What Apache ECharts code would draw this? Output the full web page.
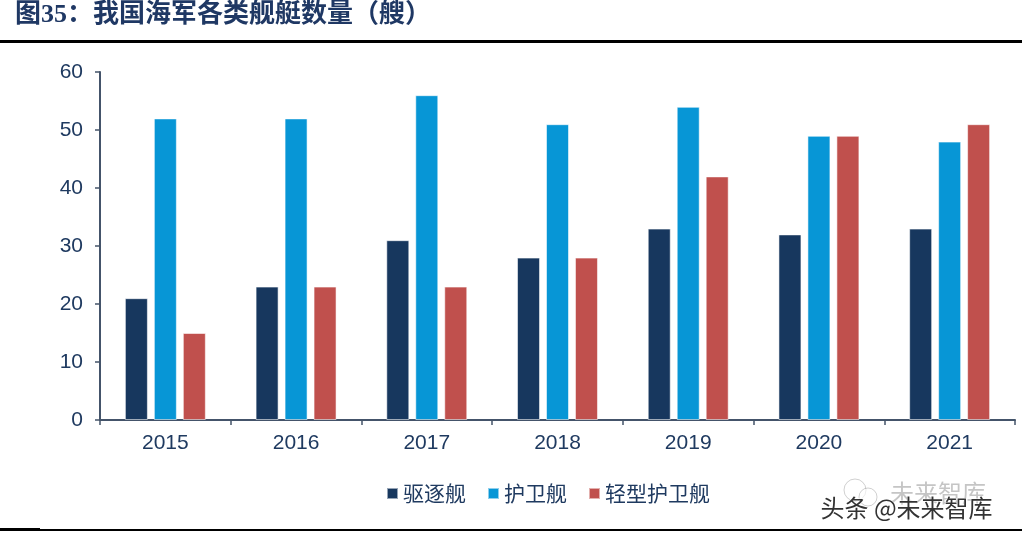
<!DOCTYPE html>
<html>
<head>
<meta charset="utf-8">
<script src="https://cdn.jsdelivr.net/npm/echarts@6/dist/echarts.min.js"></script>
<style>
html,body{margin:0;padding:0;background:#fff;}
#c{width:1022px;height:541px;}
</style>
</head>
<body>
<div id="c"></div>
<script>
const categories = ['2015','2016','2017','2018','2019','2020','2021'];
const destroyers = [21, 23, 31, 28, 33, 32, 33];
const frigates = [52, 52, 56, 51, 54, 49, 48];
const corvettes = [15, 23, 23, 28, 42, 49, 51];
const seriesNames = ['驱逐舰', '护卫舰', '轻型护卫舰'];
const yTicks = [0, 10, 20, 30, 40, 50, 60];

const chart = echarts.init(document.getElementById('c'));
const labelColor = '#1f3a60';
const axisColor = '#44546a';
const barBorder = { borderColor: 'rgba(255,255,255,0.55)', borderWidth: 1 };

chart.setOption({
  animation: false,
  backgroundColor: '#fff',
  title: {
    text: '图35：我国海军各类舰艇数量（艘）',
    left: 15, top: 0, padding: [2, 0, 0, 0],
    textStyle: { fontFamily: 'Liberation Serif, Noto Sans CJK SC', fontWeight: 'bold', fontSize: 26, color: '#1f3864' }
  },
  graphic: [
    { type: 'rect', shape: { x: 0, y: 40, width: 1022, height: 3 }, style: { fill: '#000' } },
    { type: 'rect', shape: { x: 0, y: 529, width: 1022, height: 2 }, style: { fill: '#000' } },
    { type: 'rect', shape: { x: 0, y: 528, width: 40, height: 3 }, style: { fill: '#000' } },
    { type: 'circle', shape: { cx: 855, cy: 490, r: 11 }, style: { fill: 'none', stroke: 'rgba(120,120,120,0.35)', lineWidth: 1 } },
    { type: 'circle', shape: { cx: 868, cy: 497, r: 9 }, style: { fill: 'rgba(255,255,255,0.6)', stroke: 'rgba(120,120,120,0.35)', lineWidth: 1 } },
    { type: 'text', left: 890, top: 481, style: { text: '未来智库', font: '24px "Noto Sans CJK SC"', fill: 'rgba(110,110,110,0.4)' } },
    { type: 'text', left: 820, top: 495, style: { text: '头条 @未来智库', font: '24px "Noto Sans CJK SC"', fill: '#333', stroke: '#fff', lineWidth: 1 } }
  ],
  grid: { left: 100, right: 7, top: 72, bottom: 121, containLabel: false },
  legend: {
    data: seriesNames,
    left: 386, top: 483, padding: 0,
    icon: 'rect', itemWidth: 11, itemHeight: 11, itemGap: 21,
    textStyle: { fontSize: 21, color: labelColor, fontFamily: 'Noto Sans CJK SC' }
  },
  xAxis: {
    type: 'category',
    data: categories,
    axisLine: { lineStyle: { color: axisColor, width: 2 } },
    axisTick: { show: true, length: 5, lineStyle: { color: axisColor, width: 1.5 } },
    axisLabel: { fontSize: 21, color: labelColor, fontFamily: 'Liberation Sans, Arial', margin: 13 },
    splitLine: { show: false }
  },
  yAxis: {
    type: 'value',
    min: 0, max: 60, interval: 10,
    axisLine: { show: true, lineStyle: { color: axisColor, width: 2 } },
    axisTick: { show: true, length: 5, lineStyle: { color: axisColor, width: 1.5 } },
    axisLabel: { fontSize: 21, color: labelColor, fontFamily: 'Liberation Sans, Arial', margin: 17,
      formatter: v => yTicks.includes(v) ? String(v) : '' },
    splitLine: { show: false }
  },
  series: [
    { name: seriesNames[0], type: 'bar', data: destroyers, barWidth: 23, barGap: '26%', itemStyle: Object.assign({ color: '#17375e' }, barBorder) },
    { name: seriesNames[1], type: 'bar', data: frigates, barWidth: 23, barGap: '26%', itemStyle: Object.assign({ color: '#0796d6' }, barBorder) },
    { name: seriesNames[2], type: 'bar', data: corvettes, barWidth: 23, barGap: '26%', itemStyle: Object.assign({ color: '#c0504d' }, barBorder) }
  ]
});
</script>
</body>
</html>
